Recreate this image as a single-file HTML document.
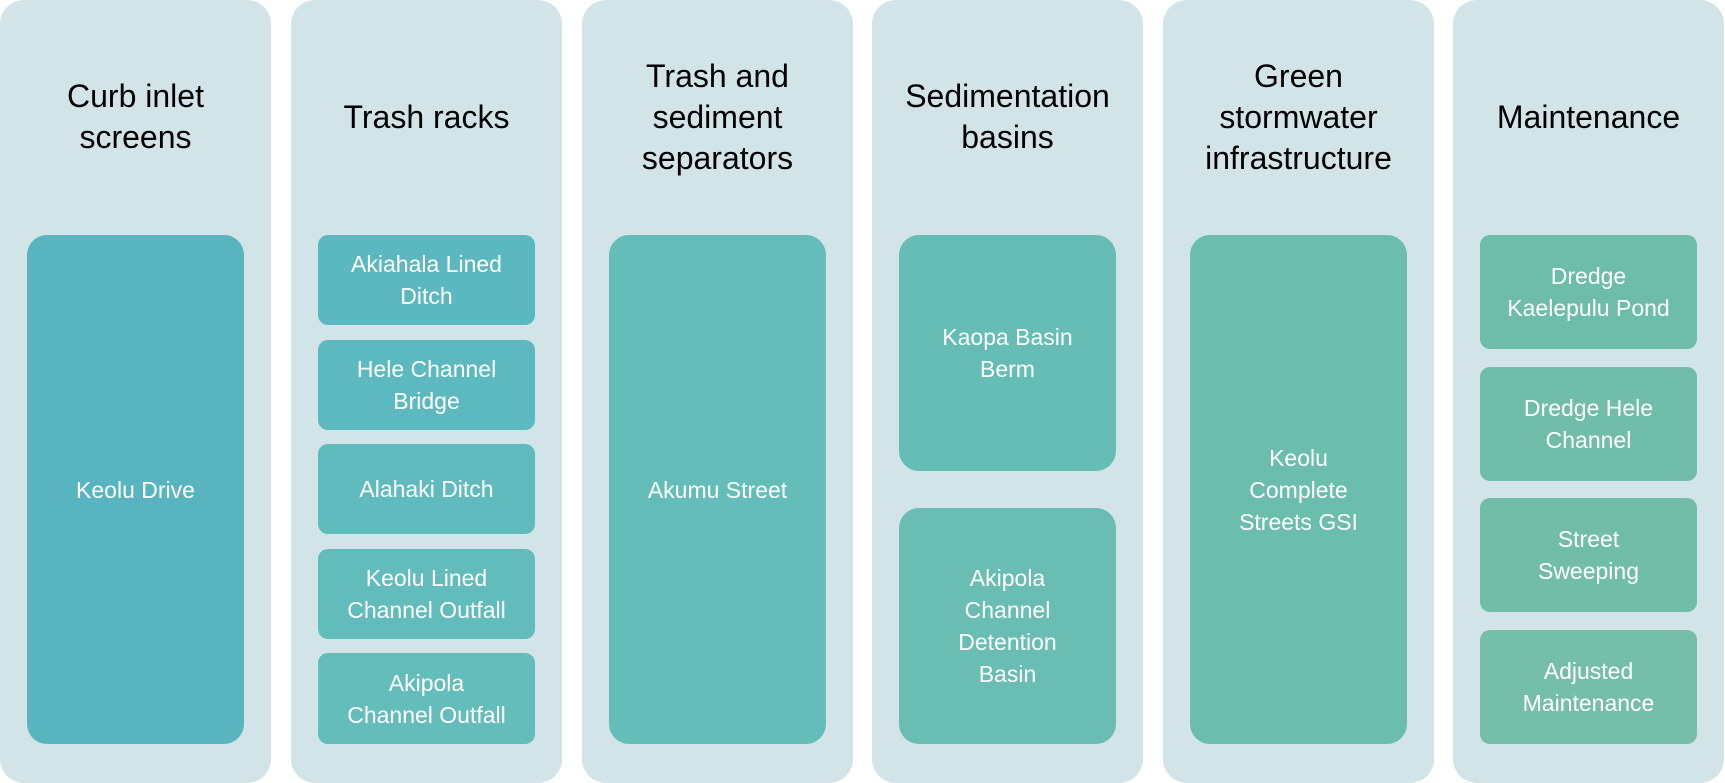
<!DOCTYPE html>
<html><head><meta charset="utf-8"><style>
html,body{margin:0;padding:0;background:#fff;}
body{width:1725px;height:783px;position:relative;overflow:hidden;font-family:"Liberation Sans",sans-serif;}
.col{position:absolute;top:0;width:271px;height:783px;background:#d2e4e8;border-radius:24px;}
.t{position:absolute;left:0;width:271px;top:52px;height:130px;display:flex;align-items:center;justify-content:center;text-align:center;font-size:32px;line-height:41px;color:#000;}
.b{position:absolute;left:27px;width:217px;display:flex;align-items:center;justify-content:center;text-align:center;color:#fff;font-size:23px;line-height:32px;border-radius:10px;}
.big{border-radius:20px;}
</style></head><body>
<div class="col" style="left:0"><div class="t">Curb inlet<br>screens</div>
<div class="b big" style="top:235px;height:509px;background:#58b5c0">Keolu Drive</div></div>
<div class="col" style="left:291px"><div class="t">Trash racks</div>
<div class="b" style="top:235px;height:90px;background:#5bb8c1">Akiahala Lined<br>Ditch</div>
<div class="b" style="top:340px;height:90px;background:#5db9c0">Hele Channel<br>Bridge</div>
<div class="b" style="top:444px;height:90px;background:#60bbbe">Alahaki Ditch</div>
<div class="b" style="top:549px;height:90px;background:#62bcbc">Keolu Lined<br>Channel Outfall</div>
<div class="b" style="top:653px;height:91px;background:#64bdba">Akipola<br>Channel Outfall</div></div>
<div class="col" style="left:582px"><div class="t">Trash and<br>sediment<br>separators</div>
<div class="b big" style="top:235px;height:509px;background:#64bdb9">Akumu Street</div></div>
<div class="col" style="left:872px"><div class="t">Sedimentation<br>basins</div>
<div class="b big" style="top:235px;height:236px;background:#66bdb5">Kaopa Basin<br>Berm</div>
<div class="b big" style="top:508px;height:236px;background:#69bdb2">Akipola<br>Channel<br>Detention<br>Basin</div></div>
<div class="col" style="left:1163px"><div class="t">Green<br>stormwater<br>infrastructure</div>
<div class="b big" style="top:235px;height:509px;background:#6bbdae">Keolu<br>Complete<br>Streets GSI</div></div>
<div class="col" style="left:1453px"><div class="t">Maintenance</div>
<div class="b" style="top:235px;height:114px;background:#6ebdab">Dredge<br>Kaelepulu Pond</div>
<div class="b" style="top:367px;height:114px;background:#70bdaa">Dredge Hele<br>Channel</div>
<div class="b" style="top:498px;height:114px;background:#72bda8">Street<br>Sweeping</div>
<div class="b" style="top:630px;height:114px;background:#75bea7">Adjusted<br>Maintenance</div></div>
</body></html>
